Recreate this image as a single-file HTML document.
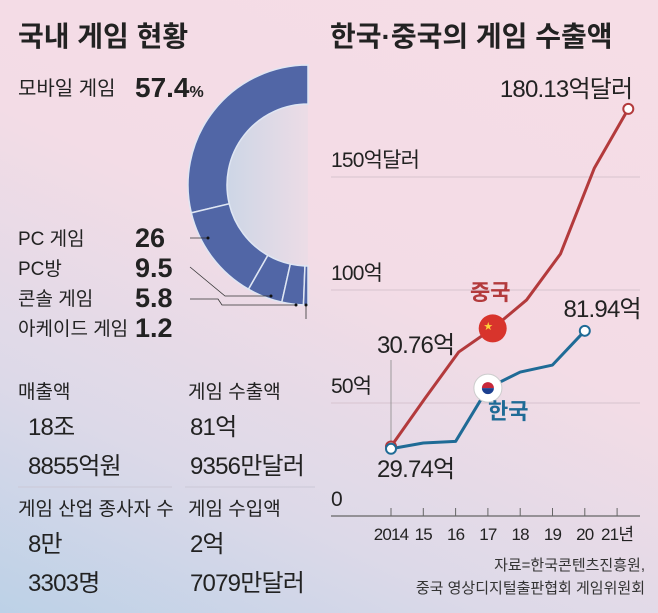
<!DOCTYPE html>
<html><head><meta charset="utf-8">
<style>
html,body{margin:0;padding:0;overflow:hidden}
body{width:658px;height:613px;overflow:hidden;background:linear-gradient(205deg,#f6dde6 0%,#f3dce6 45%,#dcd9e8 75%,#bcd1e7 100%);font-family:"Liberation Sans Narrow","Liberation Sans","Noto Sans CJK KR",sans-serif;}
svg{display:block}
svg text{font-family:"Liberation Sans Narrow","Liberation Sans","Noto Sans CJK KR",sans-serif;}
.b{font-family:"Liberation Sans","Noto Sans CJK KR",sans-serif;font-weight:bold}
.n{letter-spacing:-0.8px}
</style></head><body>
<svg id="c" width="658" height="613" viewBox="0 0 658 613" xmlns="http://www.w3.org/2000/svg">
<defs>
<linearGradient id="ig" x1="0" y1="0" x2="1" y2="0"><stop offset="0" stop-color="#cdd6e6"/><stop offset="1" stop-color="#ecdce6"/></linearGradient>
</defs>
<text x="18" y="46" font-size="28" class="b" fill="#222">국내 게임 현황</text>
<text x="330" y="46" font-size="28" class="b" fill="#222">한국·중국의 게임 수출액</text>

<g id="donut"></g>

<text x="18" y="95" font-size="20" fill="#222">모바일 게임</text>
<text x="135" y="97" font-size="28" class="b" fill="#222">57.4<tspan font-size="16">%</tspan></text>

<g fill="#222">
<text x="18" y="245" font-size="19">PC 게임</text><text x="135" y="247" font-size="27" class="b">26</text>
<text x="18" y="275" font-size="19">PC방</text><text x="135" y="277" font-size="27" class="b">9.5</text>
<text x="18" y="305" font-size="19">콘솔 게임</text><text x="135" y="307" font-size="27" class="b">5.8</text>
<text x="18" y="335" font-size="19">아케이드 게임</text><text x="135" y="337" font-size="27" class="b">1.2</text>
</g>
<g stroke="#333" stroke-width="0.8" fill="none">
<polyline points="190,238 208,238"/>
<polyline points="190,267 225,296 271,296"/>
<polyline points="190,299 218,299 222,305 296,305"/>
<polyline points="306,305 306,319"/>
</g>
<g fill="#111"><circle cx="208" cy="238" r="1.5"/><circle cx="271" cy="296" r="1.5"/><circle cx="296" cy="305" r="1.5"/><circle cx="306" cy="305" r="1.5"/></g>

<g fill="#222">
<text x="18" y="398" font-size="19">매출액</text>
<text x="28" y="435" font-size="24" class="n">18조</text>
<text x="28" y="474" font-size="24" class="n">8855억원</text>
<text x="188" y="398" font-size="19">게임 수출액</text>
<text x="190" y="435" font-size="24" class="n">81억</text>
<text x="190" y="474" font-size="24" class="n">9356만달러</text>
<line x1="18" y1="487" x2="172" y2="487" stroke="#cbc8d6" stroke-width="1"/>
<line x1="185" y1="487" x2="315" y2="487" stroke="#cbc8d6" stroke-width="1"/>
<text x="18" y="515" font-size="19">게임 산업 종사자 수</text>
<text x="28" y="552" font-size="24" class="n">8만</text>
<text x="28" y="591" font-size="24" class="n">3303명</text>
<text x="188" y="515" font-size="19">게임 수입액</text>
<text x="190" y="552" font-size="24" class="n">2억</text>
<text x="190" y="591" font-size="24" class="n">7079만달러</text>
</g>

<g id="chart"></g>

<text x="645" y="570" font-size="15" fill="#333" text-anchor="end">자료=한국콘텐츠진흥원,</text>
<text x="645" y="593" font-size="15" fill="#333" text-anchor="end">중국 영상디지털출판협회 게임위원회</text>
</svg>
<script>
// donut data
const shareLabels=["mobile","pc","pc-bang","console","arcade"];
const shareValues=[57.4,26,9.5,5.8,1.2];
// line chart data
const years=["2014","15","16","17","18","19","20","21년"];
const chinaValues=[30.76,52,72.6,83,95.6,116,154,180.13];
const koreaValues=[29.74,32.3,33,56.6,63.7,66.8,81.94];
const yTicks=[0,50,100,150];
const yTickLabels=["0","50억","100억","150억달러"];

const NS="http://www.w3.org/2000/svg";
function mk(tag,attrs,parent){const e=document.createElementNS(NS,tag);for(const k in attrs)e.setAttribute(k,attrs[k]);parent.appendChild(e);return e;}

// donut
const dg=document.getElementById('donut');
const cx=308,cy=185,R=120,r=81;
const total=shareValues.reduce((a,b)=>a+b,0);
function pt(rad,ang){return [cx+rad*Math.cos(ang),cy+rad*Math.sin(ang)];}
let a0=-Math.PI/2;
mk('path',{d:`M${cx},${cy-r} A${r},${r} 0 0 0 ${cx},${cy+r} Z`,fill:'url(#ig)'},dg);
shareValues.forEach((v,i)=>{
  const a1=a0-(v/total)*Math.PI;
  const p1=pt(R,a0),p2=pt(R,a1),p3=pt(r,a1),p4=pt(r,a0);
  const p=mk('path',{d:`M${p1} A${R},${R} 0 0 0 ${p2} L${p3} A${r},${r} 0 0 1 ${p4} Z`,fill:'#5166a6',stroke:'#dfe6f3','stroke-width':1.5},dg);
  
  
  a0=a1;
});

// line chart
const cg=document.getElementById('chart');
const y=v=>516-v*2.26;
const xk=i=>391+i*32.3;
const xc=i=>391+i*33.9;
yTicks.forEach((t,i)=>{
  if(t>0){const l=mk('line',{x1:331,x2:640,y1:y(t),y2:y(t),stroke:'#d7c3cf','stroke-width':1},cg);
  }
  const tx=mk('text',{x:331,y:y(t)-10,'font-size':21,fill:'#222',class:'n'},cg);tx.textContent=yTickLabels[i];
  
});
const ax=mk('line',{x1:331,x2:640,y1:516,y2:516,stroke:'#666','stroke-width':1.2},cg);

years.forEach((yr,i)=>{
  mk('line',{x1:xk(i),x2:xk(i),y1:508,y2:516,stroke:'#666','stroke-width':1},cg);
  const t=mk('text',{x:xk(i),y:540,'font-size':17,fill:'#222','text-anchor':'middle',class:'n'},cg);t.textContent=yr;
  
});
mk('line',{x1:391,x2:391,y1:360,y2:y(chinaValues[0]),stroke:'#888','stroke-width':0.8},cg);
const cl=mk('polyline',{points:chinaValues.map((v,i)=>xc(i)+','+y(v)).join(' '),fill:'none',stroke:'#b33a3c','stroke-width':3,'stroke-linejoin':'round'},cg);

const kl=mk('polyline',{points:koreaValues.map((v,i)=>xk(i)+','+y(v)).join(' '),fill:'none',stroke:'#1f6b96','stroke-width':3,'stroke-linejoin':'round'},cg);

const ce=mk('circle',{cx:xc(0),cy:y(chinaValues[0]),r:5,fill:'#fff',stroke:'#b33a3c','stroke-width':2},cg);

const ce2=mk('circle',{cx:xc(chinaValues.length-1),cy:y(chinaValues[chinaValues.length-1]),r:5,fill:'#fff',stroke:'#b33a3c','stroke-width':2},cg);

const ks=mk('circle',{cx:xk(0),cy:y(koreaValues[0]),r:5,fill:'#fff',stroke:'#1f6b96','stroke-width':2},cg);

const ke=mk('circle',{cx:xk(koreaValues.length-1),cy:y(koreaValues[koreaValues.length-1]),r:5,fill:'#fff',stroke:'#1f6b96','stroke-width':2},cg);

// flags
const cf=mk('circle',{cx:xc(3),cy:y(chinaValues[3]),r:14,fill:'#d8342c'},cg);

const st=mk('text',{x:xc(3)-9,y:y(chinaValues[3])+1,'font-size':9,fill:'#ffd23a'},cg);st.textContent='★';
const kf=mk('circle',{cx:xk(3),cy:y(koreaValues[3]),r:14,fill:'#fff',stroke:'#ccc','stroke-width':1},cg);

mk('path',{d:`M${xk(3)-6},${y(koreaValues[3])} a6,6 0 0 1 12,0 Z`,fill:'#c8283a'},cg);
mk('path',{d:`M${xk(3)-6},${y(koreaValues[3])} a6,6 0 0 0 12,0 Z`,fill:'#1c3f8f'},cg);
// labels
function lab(txt,x,yy,size,fill,anchor,name,bold){const t=mk('text',{x:x,y:yy,'font-size':size,fill:fill,'text-anchor':anchor||'start'},cg);t.setAttribute('class',bold?'b':'n');t.textContent=txt;}
lab(chinaValues[chinaValues.length-1].toFixed(2)+'억달러',xc(chinaValues.length-1)+4,y(chinaValues[chinaValues.length-1])-12,24,'#222','end','china-end-label');
lab(chinaValues[0].toFixed(2)+'억',377,353,24,'#222','start','china-start-label');
lab(koreaValues[0].toFixed(2)+'억',377,477,24,'#222','start','korea-start-label');
lab(koreaValues[koreaValues.length-1].toFixed(2)+'억',xk(koreaValues.length-1)+56,y(koreaValues[koreaValues.length-1])-14,24,'#222','end','korea-end-label');
lab('중국',470,300,22,'#b33a3c','start','china-label',true);
lab('한국',488,419,22,'#1f6b96','start','korea-label',true);
</script>
</body></html>
